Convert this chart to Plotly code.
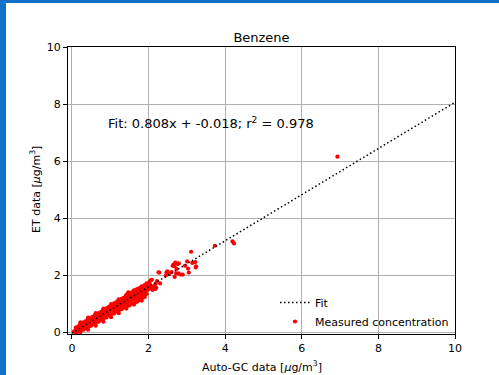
import plotly.graph_objects as go

# Measured concentrations (Auto-GC vs ET)
gc_x = [0.05, 0.08, 0.10, 0.12, 0.14, 0.15, 0.17, 0.18, 0.20, 0.21, 0.23, 0.24, 0.25, 0.27, 0.28, 0.30,
        0.31, 0.32, 0.34, 0.35, 0.36, 0.38, 0.39, 0.40, 0.42, 0.43, 0.44, 0.45, 0.47, 0.48, 0.49, 0.50,
        0.52, 0.53, 0.54, 0.55, 0.57, 0.58, 0.59, 0.60, 0.62, 0.63, 0.64, 0.65, 0.67, 0.68, 0.69, 0.70,
        0.72, 0.73, 0.74, 0.75, 0.77, 0.78, 0.79, 0.80, 0.82, 0.83, 0.84, 0.85, 0.87, 0.88, 0.89, 0.90,
        0.92, 0.93, 0.94, 0.95, 0.97, 0.98, 0.99, 1.00, 1.02, 1.03, 1.04, 1.05, 1.07, 1.08, 1.09, 1.10,
        1.12, 1.13, 1.14, 1.15, 1.17, 1.18, 1.19, 1.20, 1.22, 1.23, 1.25, 1.26, 1.28, 1.29, 1.30, 1.32,
        1.33, 1.35, 1.36, 1.38, 1.39, 1.41, 1.42, 1.44, 1.45, 1.47, 1.48, 1.50, 1.52, 1.53, 1.55, 1.57,
        1.58, 1.60, 1.62, 1.63, 1.65, 1.67, 1.68, 1.70, 1.72, 1.74, 1.75, 1.77, 1.79, 1.80, 1.82, 1.84,
        1.86, 1.88, 1.90, 1.92, 1.95, 1.97, 2.00, 2.03, 2.06, 2.08, 2.10, 2.14, 2.17, 2.20, 2.22, 2.26,
        2.30,
        0.11, 0.19, 0.26, 0.33, 0.41, 0.46, 0.51, 0.56, 0.61, 0.66, 0.71, 0.76, 0.81, 0.86, 0.91, 0.96,
        1.01, 1.06, 1.11, 1.16, 1.21, 1.27, 1.31, 1.37, 1.43, 1.49, 1.54, 1.61, 1.66, 1.71, 1.76, 1.83,
        1.87, 1.93, 1.98, 2.04,
        0.10, 0.10, 0.20, 0.20, 0.30, 0.30, 0.40, 0.40, 0.50, 0.50, 0.60, 0.60, 0.70, 0.70, 0.80, 0.80,
        0.90, 0.90, 1.00, 1.00, 1.10, 1.10, 1.20, 1.20, 1.30, 1.30, 1.40, 1.40, 1.50, 1.50, 1.60, 1.60,
        1.70, 1.70, 1.80, 1.80, 1.90, 1.90,
        0.15, 0.15, 0.25, 0.25, 0.35, 0.35, 0.45, 0.45, 0.55, 0.55, 0.65, 0.65, 0.75, 0.75, 0.85, 0.85,
        0.95, 0.95, 1.05, 1.05, 1.15, 1.15, 1.25, 1.25, 1.35, 1.35, 1.45, 1.45, 1.55, 1.55, 1.65, 1.65,
        1.75, 1.75, 1.85, 1.85, 1.95, 1.95,
        0.22, 0.22, 0.42, 0.42, 0.62, 0.62, 0.82, 0.82, 1.02, 1.02, 1.22, 1.22, 1.42, 1.42, 1.62, 1.62,
        1.82, 1.82,
        2.47, 2.49, 2.63, 2.66, 2.68, 2.68, 2.72, 2.78, 2.73, 2.79, 2.84, 2.89, 2.95, 3.01, 3.03, 3.05,
        3.14, 3.22, 3.23, 3.24, 3.11, 3.73, 4.19, 4.23, 6.93, 2.08, 1.93, 2.17, 1.75, 1.47,
        2.65, 2.70, 2.76, 2.28, 2.45, 2.54, 2.60, 2.06, 2.02, 1.98, 2.12, 2.18]
et_y = [0.03, 0.06, 0.09, 0.07, 0.12, 0.10, 0.16, 0.12, 0.18, 0.13, 0.20, 0.15, 0.22, 0.18, 0.25, 0.20,
        0.28, 0.22, 0.30, 0.24, 0.33, 0.27, 0.35, 0.29, 0.38, 0.30, 0.36, 0.42, 0.33, 0.40, 0.45, 0.36,
        0.43, 0.48, 0.38, 0.45, 0.51, 0.41, 0.48, 0.54, 0.44, 0.50, 0.57, 0.47, 0.55, 0.60, 0.49, 0.57,
        0.63, 0.52, 0.59, 0.66, 0.55, 0.62, 0.70, 0.58, 0.66, 0.72, 0.60, 0.69, 0.75, 0.63, 0.71, 0.78,
        0.66, 0.74, 0.81, 0.69, 0.77, 0.84, 0.72, 0.80, 0.87, 0.74, 0.83, 0.90, 0.77, 0.86, 0.93, 0.80,
        0.89, 0.96, 0.83, 0.92, 0.99, 0.86, 0.95, 1.02, 0.89, 0.98, 1.06, 0.92, 1.01, 1.09, 0.95, 1.04,
        1.12, 0.99, 1.08, 1.16, 1.02, 1.11, 1.19, 1.06, 1.15, 1.23, 1.09, 1.18, 1.26, 1.12, 1.22, 1.30,
        1.15, 1.25, 1.35, 1.18, 1.29, 1.38, 1.21, 1.32, 1.42, 1.25, 1.36, 1.46, 1.28, 1.40, 1.50, 1.33,
        1.45, 1.55, 1.38, 1.60, 1.47, 1.66, 1.52, 1.70, 1.58, 1.85, 1.49, 1.62, 1.53, 1.57, 1.80, 2.11,
        1.72,
        0.11, 0.17, 0.21, 0.27, 0.33, 0.39, 0.41, 0.47, 0.50, 0.52, 0.60, 0.61, 0.68, 0.67, 0.74, 0.75,
        0.83, 0.84, 0.91, 0.90, 0.98, 1.00, 1.08, 1.07, 1.14, 1.17, 1.28, 1.20, 1.42, 1.30, 1.41, 1.40,
        1.48, 1.52, 1.60, 1.62,
        0.17, 0.01, 0.27, 0.04, 0.36, 0.10, 0.44, 0.17, 0.52, 0.24, 0.61, 0.31, 0.68, 0.38, 0.77, 0.46,
        0.85, 0.53, 0.94, 0.60, 1.02, 0.67, 1.10, 0.74, 1.18, 0.82, 1.27, 0.89, 1.35, 0.95, 1.44, 1.00,
        1.52, 1.08, 1.58, 1.16, 1.66, 1.25,
        0.20, 0.03, 0.30, 0.08, 0.39, 0.15, 0.48, 0.22, 0.56, 0.30, 0.64, 0.37, 0.72, 0.45, 0.80, 0.52,
        0.89, 0.60, 0.97, 0.66, 1.06, 0.74, 1.14, 0.80, 1.22, 0.88, 1.31, 0.94, 1.40, 1.02, 1.48, 1.06,
        1.55, 1.13, 1.62, 1.22, 1.72, 1.35,
        0.36, 0.02, 0.52, 0.10, 0.68, 0.24, 0.84, 0.38, 1.00, 0.54, 1.16, 0.68, 1.32, 0.84, 1.48, 0.98,
        1.62, 1.12,
        2.11, 2.14, 2.34, 2.33, 2.34, 1.95, 2.07, 2.07, 2.23, 2.42, 2.03, 2.03, 2.34, 2.49, 2.24, 2.10,
        2.44, 2.47, 2.28, 2.32, 2.83, 3.04, 3.19, 3.12, 6.16, 1.85, 1.65, 1.53, 1.47, 1.41,
        2.38, 2.45, 2.40, 2.10, 2.00, 2.05, 2.12, 1.84, 1.78, 1.70, 1.62, 1.70]

# Fit parameters shown on the chart
fit_slope = 0.808
fit_intercept = -0.018
fit_r2 = 0.978
fit_x = [0, 10]
fit_y = [fit_slope * v + fit_intercept for v in fit_x]

tick_vals = [0, 2, 4, 6, 8, 10]
tick_text = ["0", "2", "4", "6", "8", "10"]

W, H = 499, 375
ML, MR, MT, MB = 68, 44, 47, 41
PW, PH = W - ML - MR, H - MT - MB
FONT = "DejaVu Sans"

fig = go.Figure()
fig.add_trace(go.Scatter(
    x=gc_x, y=et_y, mode="markers", name="Measured concentration",
    marker=dict(color="red", size=4.2, line=dict(width=0)),
))
fig.add_trace(go.Scatter(
    x=fit_x, y=fit_y, mode="lines", name="Fit",
    line=dict(color="black", width=1.5, dash="1.5px,2.5px"),
))

axis_common = dict(
    tickvals=tick_vals, ticktext=tick_text,
    showgrid=True, gridcolor="#b0b0b0", gridwidth=1,
    zeroline=False, showline=True, linecolor="black", linewidth=1,
    mirror=True, ticks="outside", ticklen=4, tickcolor="black", tickwidth=1,
    tickfont=dict(family=FONT, size=11, color="black"),
)
fig.update_xaxes(range=[-0.104, 10], **axis_common)
fig.update_yaxes(range=[-0.05, 10], **axis_common)

shapes = [
    # blue frame strips (left and top)
    dict(type="rect", xref="paper", yref="paper",
         x0=-ML / PW, x1=(-ML + 6) / PW, y0=-MB / PH, y1=(PH + MT) / PH,
         fillcolor="#1170c8", line=dict(width=0), layer="above"),
    dict(type="rect", xref="paper", yref="paper",
         x0=-ML / PW, x1=(PW + MR) / PW, y0=(PH + MT - 3) / PH, y1=(PH + MT) / PH,
         fillcolor="#1170c8", line=dict(width=0), layer="above"),
]

annotations = [
    dict(text=f"Fit: {fit_slope}x + {fit_intercept}; r<sup>2</sup> = {fit_r2}",
         xref="paper", yref="paper", x=(106 - ML) / PW, y=(H - MB - 123) / PH,
         xanchor="left", yanchor="middle", showarrow=False,
         font=dict(family=FONT, size=13, color="black")),
    dict(text="Auto-GC data [<i>μ</i>g/m<sup>3</sup>]",
         xref="paper", yref="paper", x=0.5, y=-(366 - (H - MB)) / PH,
         xanchor="center", yanchor="middle", showarrow=False,
         font=dict(family=FONT, size=11, color="black")),
    dict(text="ET data [<i>μ</i>g/m<sup>3</sup>]",
         xref="paper", yref="paper", x=-(ML - 35) / PW, y=(H - MB - 190) / PH,
         xanchor="center", yanchor="middle", showarrow=False, textangle=-90,
         font=dict(family=FONT, size=11, color="black")),
]

fig.update_layout(
    width=W, height=H,
    margin=dict(l=ML, r=MR, t=MT, b=MB),
    paper_bgcolor="white", plot_bgcolor="white",
    title=dict(text="Benzene", x=0.5, xref="paper", y=1 - 37 / H, yref="container",
               xanchor="center", yanchor="middle",
               font=dict(family=FONT, size=13, color="black")),
    showlegend=True,
    legend=dict(x=(275 - ML) / PW, y=(H - MB - 336) / PH, xanchor="left", yanchor="bottom",
                bgcolor="rgba(0,0,0,0)", borderwidth=0, traceorder="reversed",
                font=dict(family=FONT, size=11, color="black"),
                tracegroupgap=0, itemsizing="trace"),
    shapes=shapes,
    annotations=annotations,
    font=dict(family=FONT),
)

fig.write_html("out.html",
               config={"displayModeBar": False},
               post_script="document.body.style.margin='0';document.body.style.overflow='hidden';")
